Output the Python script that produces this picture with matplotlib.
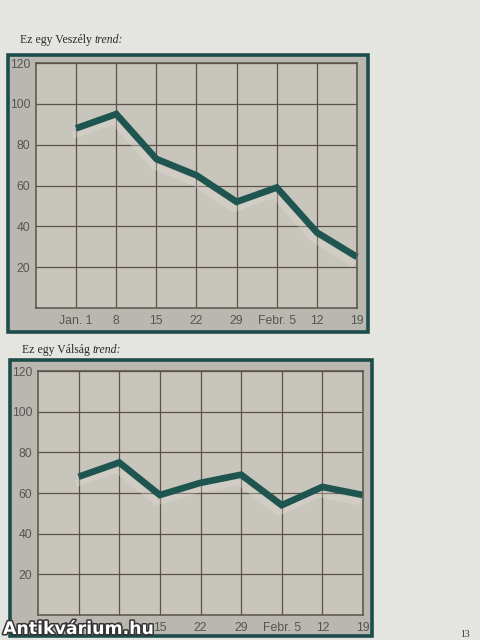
import matplotlib
matplotlib.use("Agg")
import matplotlib.pyplot as plt
from matplotlib.patches import Rectangle
import matplotlib.patheffects as pe

# ---- data ----
x_labels = ["Jan. 1", "8", "15", "22", "29", "Febr. 5", "12", "19"]
x_pos = [1, 2, 3, 4, 5, 6, 7, 8]
y_ticks = [20, 40, 60, 80, 100, 120]
veszely = [88, 95, 73, 65, 52, 59, 37, 25]
valsag = [68, 75, 59, 65, 69, 54, 63, 59]
titles = [("Ez egy Veszély ", "trend:"), ("Ez egy Válság ", "trend:")]

W, H = 480, 640
fig = plt.figure(figsize=(W / 100, H / 100), dpi=100)
fig.patch.set_facecolor("#e4e4e1")

def fr(x0, y0, x1, y1):
    return [x0 / W, 1 - y1 / H, (x1 - x0) / W, (y1 - y0) / H]

TEAL = "#1d4d4a"
LINE = "#1f5550"
GRID = "#5b5249"

def panel(outer, inner, values, title, title_xy):
    ox0, oy0, ox1, oy1 = outer
    r = Rectangle((ox0 / W, 1 - oy1 / H), (ox1 - ox0) / W, (oy1 - oy0) / H,
                  transform=fig.transFigure, facecolor="#b9b7b0",
                  edgecolor=TEAL, linewidth=2.6, zorder=-5)
    fig.patches.append(r)
    ax = fig.add_axes(fr(*inner))
    ax.set_zorder(2)
    ax.set_facecolor("#c8c5bd")
    ax.set_xlim(0, 8)
    ax.set_ylim(0, 120)
    ax.set_xticks(x_pos)
    ax.set_xticklabels(x_labels)
    ax.set_yticks(y_ticks)
    ax.set_yticklabels([str(v) for v in y_ticks])
    ax.tick_params(length=0, labelsize=8.8, colors="#555553", pad=5)
    ax.tick_params(axis="y", pad=4)
    for lab in ax.get_xticklabels() + ax.get_yticklabels():
        lab.set_fontfamily("Liberation Sans")
    ax.grid(True, color=GRID, linewidth=0.9)
    ax.set_axisbelow(True)
    for s in ax.spines.values():
        s.set_color(GRID)
        s.set_linewidth(1.1)
    ax.plot(x_pos, values, color=LINE, linewidth=4.8, solid_joinstyle="miter",
            solid_capstyle="butt", clip_on=False,
            path_effects=[pe.SimpleLineShadow(offset=(-2, -5), shadow_color="#e8e2d6",
                                              alpha=0.3), pe.Normal()])
    # caption
    tx, ty = title_xy
    t1 = fig.text(tx / W, 1 - ty / H, title[0], fontsize=8.5,
                  family="Liberation Serif", color="#2a2a2a", va="baseline")
    fig.canvas.draw()
    bb = t1.get_window_extent(renderer=fig.canvas.get_renderer())
    fig.text(bb.x1 / W, 1 - ty / H, title[1], fontsize=8.5, style="italic",
             family="Liberation Serif", color="#2a2a2a", va="baseline")
    return ax

panel((8, 55, 368, 332), (36, 63, 357, 308), veszely, titles[0], (20, 43))
panel((10, 360, 372, 636), (38, 371, 363, 615), valsag, titles[1], (22, 353))

fig.text(465 / W, 1 - 637 / H, "13", fontsize=7, family="Liberation Serif",
         color="#333333", ha="center", va="baseline")
wm = fig.text(3 / W, 1 - 634 / H, "Antikvárium.hu", fontsize=12.5, weight="bold",
              family="DejaVu Sans", color="white", va="baseline", zorder=10,
              path_effects=[pe.Stroke(linewidth=2.2, foreground="#333333"), pe.Normal()])

fig.savefig("out.png", dpi=100, facecolor=fig.get_facecolor())
